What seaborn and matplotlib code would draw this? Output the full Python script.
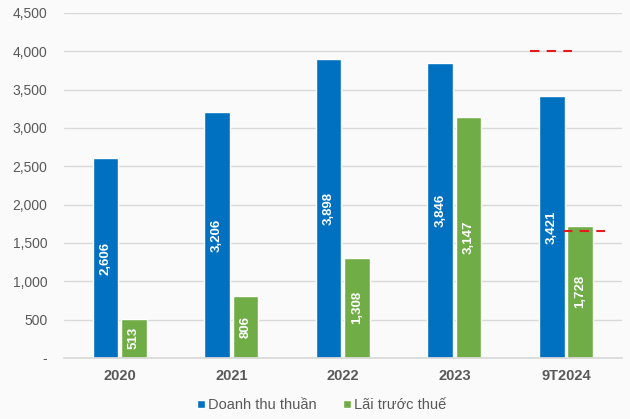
import matplotlib
matplotlib.use("Agg")
import matplotlib.pyplot as plt
import seaborn as sns
import pandas as pd
from matplotlib.ticker import FuncFormatter
from matplotlib.patches import Patch

categories = ["2020", "2021", "2022", "2023", "9T2024"]
revenue = [2606, 3206, 3898, 3846, 3421]
pretax = [513, 806, 1308, 3147, 1728]
series_names = ["Doanh thu thuần", "Lãi trước thuế"]
colors = ["#0070C0", "#70AD47"]
target_revenue = 4000
target_pretax = 1650

sns.set_theme(style="white")
plt.rcParams['font.family'] = ['Liberation Sans', 'DejaVu Sans']

df = pd.DataFrame({
    "cat": categories * 2,
    "series": [series_names[0]] * len(categories) + [series_names[1]] * len(categories),
    "value": revenue + pretax,
})

fig = plt.figure(figsize=(6.3, 4.19), dpi=100, facecolor="#FAFAFA")
ax = fig.add_axes([0.1016, 0.1456, 0.8854, 0.8234])
ax.set_facecolor("#FAFAFA")

sns.barplot(data=df, x="cat", y="value", hue="series", palette=colors,
            width=0.51, gap=0.1, ax=ax, legend=False, saturation=1, errorbar=None)

ax.set_ylim(0, 4500)
ax.set_xlim(-0.5, len(categories) - 0.5)
ax.set_yticks(range(0, 4501, 500))
ax.yaxis.set_major_formatter(FuncFormatter(lambda v, p: "-" if v == 0 else f"{v:,.0f}"))
ax.grid(axis="y", color="#D9D9D9", linewidth=1)
ax.set_axisbelow(True)
for s in ["top", "right", "left"]:
    ax.spines[s].set_visible(False)
ax.spines["bottom"].set_color("#D9D9D9")
ax.tick_params(axis="y", length=0, pad=12, labelsize=10, labelcolor="#595959")
ax.tick_params(axis="x", length=0, pad=8, labelsize=10.5, labelcolor="#595959")
for t in ax.get_xticklabels():
    t.set_fontweight("bold")
ax.set_xlabel("")
ax.set_ylabel("")

for cont in ax.containers:
    for bar in cont:
        h = bar.get_height()
        x = bar.get_x() + bar.get_width() / 2
        ax.text(x, h / 2, f"{h:,.0f}", rotation=90, ha="center", va="center",
                color="white", fontweight="bold", fontsize=9.5)

# target dashed lines
ax.plot([3.676, 4.052], [target_revenue, target_revenue], color="#E41A1C",
        linestyle=(0, (4.5, 3.5)), linewidth=1.5)
ax.plot([3.971, 4.348], [target_pretax, target_pretax], color="#E41A1C",
        linestyle=(0, (4.5, 3.5)), linewidth=1.5)

handles = [Patch(facecolor=c, label=n) for c, n in zip(colors, series_names)]
fig.legend(handles=handles, loc="lower center", bbox_to_anchor=(0.51, -0.015),
           ncol=2, frameon=False, fontsize=10.5, handlelength=0.55, handleheight=0.55,
           handletextpad=0.2, columnspacing=1.8, labelcolor="#595959")

fig.savefig("out.png", dpi=100, facecolor=fig.get_facecolor())
